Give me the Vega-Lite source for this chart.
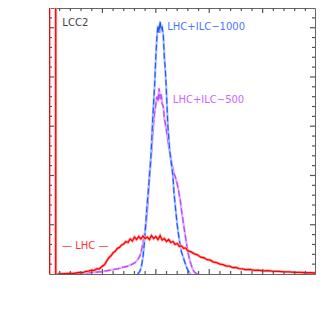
{
  "$schema": "https://vega.github.io/schema/vega-lite/v6.json",
  "width": 266,
  "height": 266,
  "autosize": "none",
  "padding": {"left": 49, "top": 8, "right": 12, "bottom": 42},
  "background": "white",
  "config": {
    "view": {"stroke": "#666", "strokeWidth": 1},
    "axis": {
      "labelFont": "DejaVu Sans", "labelFontSize": 10, "labelColor": "#555",
      "titleFont": "DejaVu Sans", "titleFontWeight": "normal", "titleColor": "#555",
      "domain": false, "grid": false
    }
  },
  "datasets": {
    "d": [
      {"s": "spike", "x": 0.0004, "y": 0}, {"s": "spike", "x": 0.0004, "y": 80}, {"s": "spike", "x": 0.0063, "y": 80}, {"s": "spike", "x": 0.0063, "y": 0},
      {"s": "LHC", "x": 0.008, "y": 0.0}, {"s": "LHC", "x": 0.015, "y": 0.05}, {"s": "LHC", "x": 0.020, "y": 0.1}, {"s": "LHC", "x": 0.024, "y": 0.15},
      {"s": "LHC", "x": 0.028, "y": 0.3}, {"s": "LHC", "x": 0.031, "y": 0.25}, {"s": "LHC", "x": 0.034, "y": 0.5}, {"s": "LHC", "x": 0.037, "y": 0.6},
      {"s": "LHC", "x": 0.040, "y": 0.8}, {"s": "LHC", "x": 0.042, "y": 0.7}, {"s": "LHC", "x": 0.045, "y": 1.1}, {"s": "LHC", "x": 0.047, "y": 1.0},
      {"s": "LHC", "x": 0.050, "y": 1.6}, {"s": "LHC", "x": 0.052, "y": 1.9}, {"s": "LHC", "x": 0.054, "y": 2.6}, {"s": "LHC", "x": 0.056, "y": 3.3},
      {"s": "LHC", "x": 0.058, "y": 3.7}, {"s": "LHC", "x": 0.060, "y": 4.3}, {"s": "LHC", "x": 0.062, "y": 4.6}, {"s": "LHC", "x": 0.064, "y": 5.2},
      {"s": "LHC", "x": 0.066, "y": 5.4}, {"s": "LHC", "x": 0.068, "y": 5.9}, {"s": "LHC", "x": 0.070, "y": 6.1}, {"s": "LHC", "x": 0.072, "y": 6.6},
      {"s": "LHC", "x": 0.074, "y": 6.4}, {"s": "LHC", "x": 0.076, "y": 7.1}, {"s": "LHC", "x": 0.078, "y": 6.7}, {"s": "LHC", "x": 0.080, "y": 7.5},
      {"s": "LHC", "x": 0.082, "y": 7.0}, {"s": "LHC", "x": 0.084, "y": 7.6}, {"s": "LHC", "x": 0.086, "y": 7.1}, {"s": "LHC", "x": 0.088, "y": 7.7},
      {"s": "LHC", "x": 0.090, "y": 7.2}, {"s": "LHC", "x": 0.092, "y": 7.5}, {"s": "LHC", "x": 0.094, "y": 7.0}, {"s": "LHC", "x": 0.096, "y": 7.8},
      {"s": "LHC", "x": 0.098, "y": 7.2}, {"s": "LHC", "x": 0.100, "y": 7.6}, {"s": "LHC", "x": 0.102, "y": 7.0}, {"s": "LHC", "x": 0.104, "y": 7.8},
      {"s": "LHC", "x": 0.106, "y": 6.9}, {"s": "LHC", "x": 0.108, "y": 7.2}, {"s": "LHC", "x": 0.110, "y": 6.6}, {"s": "LHC", "x": 0.112, "y": 7.0},
      {"s": "LHC", "x": 0.114, "y": 6.4}, {"s": "LHC", "x": 0.116, "y": 6.6}, {"s": "LHC", "x": 0.118, "y": 6.0}, {"s": "LHC", "x": 0.120, "y": 6.2},
      {"s": "LHC", "x": 0.122, "y": 5.6}, {"s": "LHC", "x": 0.124, "y": 5.7}, {"s": "LHC", "x": 0.126, "y": 5.2}, {"s": "LHC", "x": 0.128, "y": 5.3},
      {"s": "LHC", "x": 0.130, "y": 4.7}, {"s": "LHC", "x": 0.133, "y": 4.5}, {"s": "LHC", "x": 0.136, "y": 4.1}, {"s": "LHC", "x": 0.139, "y": 3.9},
      {"s": "LHC", "x": 0.142, "y": 3.4}, {"s": "LHC", "x": 0.145, "y": 3.3}, {"s": "LHC", "x": 0.148, "y": 2.9}, {"s": "LHC", "x": 0.151, "y": 2.8},
      {"s": "LHC", "x": 0.154, "y": 2.4}, {"s": "LHC", "x": 0.157, "y": 2.3}, {"s": "LHC", "x": 0.160, "y": 2.0}, {"s": "LHC", "x": 0.163, "y": 1.9},
      {"s": "LHC", "x": 0.166, "y": 1.6}, {"s": "LHC", "x": 0.169, "y": 1.6}, {"s": "LHC", "x": 0.172, "y": 1.3}, {"s": "LHC", "x": 0.175, "y": 1.35},
      {"s": "LHC", "x": 0.178, "y": 1.1}, {"s": "LHC", "x": 0.181, "y": 1.05}, {"s": "LHC", "x": 0.184, "y": 0.9}, {"s": "LHC", "x": 0.188, "y": 0.95},
      {"s": "LHC", "x": 0.192, "y": 0.75}, {"s": "LHC", "x": 0.196, "y": 0.8}, {"s": "LHC", "x": 0.200, "y": 0.65}, {"s": "LHC", "x": 0.205, "y": 0.7},
      {"s": "LHC", "x": 0.210, "y": 0.55}, {"s": "LHC", "x": 0.215, "y": 0.55}, {"s": "LHC", "x": 0.220, "y": 0.45}, {"s": "LHC", "x": 0.225, "y": 0.45},
      {"s": "LHC", "x": 0.230, "y": 0.35}, {"s": "LHC", "x": 0.235, "y": 0.35}, {"s": "LHC", "x": 0.240, "y": 0.25}, {"s": "LHC", "x": 0.245, "y": 0.25},
      {"s": "LHC", "x": 0.249, "y": 0.2},
      {"s": "ILC500", "x": 0.010, "y": 0.0}, {"s": "ILC500", "x": 0.020, "y": 0.05}, {"s": "ILC500", "x": 0.028, "y": 0.1}, {"s": "ILC500", "x": 0.035, "y": 0.2},
      {"s": "ILC500", "x": 0.040, "y": 0.3}, {"s": "ILC500", "x": 0.045, "y": 0.4}, {"s": "ILC500", "x": 0.050, "y": 0.5}, {"s": "ILC500", "x": 0.055, "y": 0.7},
      {"s": "ILC500", "x": 0.060, "y": 0.9}, {"s": "ILC500", "x": 0.065, "y": 1.1}, {"s": "ILC500", "x": 0.070, "y": 1.4}, {"s": "ILC500", "x": 0.074, "y": 1.6},
      {"s": "ILC500", "x": 0.078, "y": 2.0}, {"s": "ILC500", "x": 0.081, "y": 2.4}, {"s": "ILC500", "x": 0.083, "y": 2.9}, {"s": "ILC500", "x": 0.085, "y": 3.6},
      {"s": "ILC500", "x": 0.0864, "y": 4.6}, {"s": "ILC500", "x": 0.088, "y": 6.3}, {"s": "ILC500", "x": 0.0895, "y": 8.2}, {"s": "ILC500", "x": 0.091, "y": 10.5},
      {"s": "ILC500", "x": 0.092, "y": 13}, {"s": "ILC500", "x": 0.093, "y": 16}, {"s": "ILC500", "x": 0.094, "y": 19.5}, {"s": "ILC500", "x": 0.095, "y": 22.5},
      {"s": "ILC500", "x": 0.096, "y": 25}, {"s": "ILC500", "x": 0.097, "y": 28}, {"s": "ILC500", "x": 0.098, "y": 31}, {"s": "ILC500", "x": 0.099, "y": 33},
      {"s": "ILC500", "x": 0.100, "y": 34.5}, {"s": "ILC500", "x": 0.101, "y": 36}, {"s": "ILC500", "x": 0.102, "y": 35}, {"s": "ILC500", "x": 0.103, "y": 37.7},
      {"s": "ILC500", "x": 0.104, "y": 35.5}, {"s": "ILC500", "x": 0.105, "y": 36.5}, {"s": "ILC500", "x": 0.106, "y": 34.5}, {"s": "ILC500", "x": 0.107, "y": 34},
      {"s": "ILC500", "x": 0.108, "y": 31.5}, {"s": "ILC500", "x": 0.109, "y": 30.5}, {"s": "ILC500", "x": 0.110, "y": 29}, {"s": "ILC500", "x": 0.111, "y": 27.8},
      {"s": "ILC500", "x": 0.112, "y": 26}, {"s": "ILC500", "x": 0.113, "y": 25}, {"s": "ILC500", "x": 0.114, "y": 23.5}, {"s": "ILC500", "x": 0.115, "y": 22.5},
      {"s": "ILC500", "x": 0.116, "y": 21.3}, {"s": "ILC500", "x": 0.117, "y": 20.4}, {"s": "ILC500", "x": 0.118, "y": 19.8}, {"s": "ILC500", "x": 0.119, "y": 19.2},
      {"s": "ILC500", "x": 0.120, "y": 18.3}, {"s": "ILC500", "x": 0.121, "y": 17.3}, {"s": "ILC500", "x": 0.122, "y": 16}, {"s": "ILC500", "x": 0.123, "y": 14.8},
      {"s": "ILC500", "x": 0.124, "y": 13}, {"s": "ILC500", "x": 0.125, "y": 11.6}, {"s": "ILC500", "x": 0.126, "y": 10}, {"s": "ILC500", "x": 0.127, "y": 8.6},
      {"s": "ILC500", "x": 0.128, "y": 7.2}, {"s": "ILC500", "x": 0.129, "y": 5.8}, {"s": "ILC500", "x": 0.130, "y": 4.5}, {"s": "ILC500", "x": 0.131, "y": 3.5},
      {"s": "ILC500", "x": 0.132, "y": 2.6}, {"s": "ILC500", "x": 0.133, "y": 1.9}, {"s": "ILC500", "x": 0.134, "y": 1.3}, {"s": "ILC500", "x": 0.135, "y": 0.8},
      {"s": "ILC500", "x": 0.136, "y": 0.4}, {"s": "ILC500", "x": 0.138, "y": 0.1}, {"s": "ILC500", "x": 0.140, "y": 0.0},
      {"s": "ILC1000", "x": 0.083, "y": 0.0}, {"s": "ILC1000", "x": 0.085, "y": 0.5}, {"s": "ILC1000", "x": 0.0864, "y": 1.4}, {"s": "ILC1000", "x": 0.088, "y": 3.5},
      {"s": "ILC1000", "x": 0.0894, "y": 6.6}, {"s": "ILC1000", "x": 0.0905, "y": 10}, {"s": "ILC1000", "x": 0.0916, "y": 13.4}, {"s": "ILC1000", "x": 0.093, "y": 17},
      {"s": "ILC1000", "x": 0.0941, "y": 20.1}, {"s": "ILC1000", "x": 0.095, "y": 22.5}, {"s": "ILC1000", "x": 0.0957, "y": 25}, {"s": "ILC1000", "x": 0.097, "y": 31},
      {"s": "ILC1000", "x": 0.098, "y": 35}, {"s": "ILC1000", "x": 0.0988, "y": 38}, {"s": "ILC1000", "x": 0.100, "y": 44}, {"s": "ILC1000", "x": 0.101, "y": 48},
      {"s": "ILC1000", "x": 0.102, "y": 50.5}, {"s": "ILC1000", "x": 0.103, "y": 49}, {"s": "ILC1000", "x": 0.104, "y": 51.3}, {"s": "ILC1000", "x": 0.105, "y": 49.5},
      {"s": "ILC1000", "x": 0.106, "y": 50}, {"s": "ILC1000", "x": 0.107, "y": 48.5}, {"s": "ILC1000", "x": 0.108, "y": 44}, {"s": "ILC1000", "x": 0.109, "y": 41},
      {"s": "ILC1000", "x": 0.1097, "y": 38}, {"s": "ILC1000", "x": 0.1113, "y": 30}, {"s": "ILC1000", "x": 0.113, "y": 25}, {"s": "ILC1000", "x": 0.1159, "y": 20.1},
      {"s": "ILC1000", "x": 0.117, "y": 16.5}, {"s": "ILC1000", "x": 0.1184, "y": 13.4}, {"s": "ILC1000", "x": 0.120, "y": 10}, {"s": "ILC1000", "x": 0.1222, "y": 6.6},
      {"s": "ILC1000", "x": 0.124, "y": 4.5}, {"s": "ILC1000", "x": 0.1268, "y": 2.6}, {"s": "ILC1000", "x": 0.129, "y": 1.2}, {"s": "ILC1000", "x": 0.1315, "y": 0.2},
      {"s": "ILC1000", "x": 0.133, "y": 0.0}
    ],
    "t": [
      {"label": "LCC2", "x": 0.0125, "y": 51, "c": "#444444"},
      {"label": "LHC+ILC−1000", "x": 0.1107, "y": 50.1, "c": "#4f74ff"},
      {"label": "LHC+ILC−500", "x": 0.1159, "y": 35.3, "c": "#cc66ff"},
      {"label": "—  LHC  —", "x": 0.0122, "y": 5.7, "c": "#ff3333"}
    ],
    "xt": [
      {"v": 0.05, "k": "M"}, {"v": 0.1, "k": "M"}, {"v": 0.15, "k": "M"}, {"v": 0.2, "k": "M"},
      {"v": 0.01, "k": "m"}, {"v": 0.02, "k": "m"}, {"v": 0.03, "k": "m"}, {"v": 0.04, "k": "m"},
      {"v": 0.06, "k": "m"}, {"v": 0.07, "k": "m"}, {"v": 0.08, "k": "m"}, {"v": 0.09, "k": "m"},
      {"v": 0.11, "k": "m"}, {"v": 0.12, "k": "m"}, {"v": 0.13, "k": "m"}, {"v": 0.14, "k": "m"},
      {"v": 0.16, "k": "m"}, {"v": 0.17, "k": "m"}, {"v": 0.18, "k": "m"}, {"v": 0.19, "k": "m"},
      {"v": 0.21, "k": "m"}, {"v": 0.22, "k": "m"}, {"v": 0.23, "k": "m"}, {"v": 0.24, "k": "m"}
    ],
    "yt": [
      {"v": 10, "k": "M"}, {"v": 20, "k": "M"}, {"v": 30, "k": "M"}, {"v": 40, "k": "M"}, {"v": 50, "k": "M"},
      {"v": 2, "k": "m"}, {"v": 4, "k": "m"}, {"v": 6, "k": "m"}, {"v": 8, "k": "m"},
      {"v": 12, "k": "m"}, {"v": 14, "k": "m"}, {"v": 16, "k": "m"}, {"v": 18, "k": "m"},
      {"v": 22, "k": "m"}, {"v": 24, "k": "m"}, {"v": 26, "k": "m"}, {"v": 28, "k": "m"},
      {"v": 32, "k": "m"}, {"v": 34, "k": "m"}, {"v": 36, "k": "m"}, {"v": 38, "k": "m"},
      {"v": 42, "k": "m"}, {"v": 44, "k": "m"}, {"v": 46, "k": "m"}, {"v": 48, "k": "m"}, {"v": 52, "k": "m"}
    ]
  },
  "layer": [
    {
      "data": {"name": "d"},
      "mark": {"type": "point", "opacity": 0},
      "encoding": {
        "x": {"field": "x", "type": "quantitative", "scale": {"domain": [0, 0.249], "nice": false, "zero": false},
          "axis": {"orient": "bottom", "values": [0, 0.05, 0.1, 0.15, 0.2], "format": "~g", "ticks": false, "labelPadding": 6,
            "title": "Ωᵪh²", "titleFontSize": 11, "titleX": 128, "titlePadding": 8}},
        "y": {"field": "y", "type": "quantitative", "scale": {"domain": [0, 54], "nice": false, "zero": false},
          "axis": {"orient": "left", "values": [0, 10, 20, 30, 40, 50], "ticks": false, "labelPadding": 6,
            "title": "probability density dP/dx", "titleFontSize": 12, "titleY": 111, "titleX": -33}}
      }
    },
    {
      "data": {"name": "d"},
      "transform": [{"filter": "datum.s === 'ILC500'"}],
      "mark": {"type": "line", "clip": true, "color": "#e0aaff", "strokeWidth": 2.2},
      "encoding": {
        "x": {"field": "x", "type": "quantitative", "axis": null},
        "y": {"field": "y", "type": "quantitative", "axis": null}
      }
    },
    {
      "data": {"name": "d"},
      "transform": [{"filter": "datum.s === 'ILC500'"}],
      "mark": {"type": "line", "clip": true, "color": "#bb44ff", "strokeWidth": 1.2, "strokeDash": [6, 3]},
      "encoding": {
        "x": {"field": "x", "type": "quantitative", "axis": null},
        "y": {"field": "y", "type": "quantitative", "axis": null}
      }
    },
    {
      "data": {"name": "d"},
      "transform": [{"filter": "datum.s === 'ILC1000'"}],
      "mark": {"type": "line", "clip": true, "color": "#a8c0ff", "strokeWidth": 2.2},
      "encoding": {
        "x": {"field": "x", "type": "quantitative", "axis": null},
        "y": {"field": "y", "type": "quantitative", "axis": null}
      }
    },
    {
      "data": {"name": "d"},
      "transform": [{"filter": "datum.s === 'ILC1000'"}],
      "mark": {"type": "line", "clip": true, "color": "#2255ff", "strokeWidth": 1.2, "strokeDash": [6, 3]},
      "encoding": {
        "x": {"field": "x", "type": "quantitative", "axis": null},
        "y": {"field": "y", "type": "quantitative", "axis": null}
      }
    },
    {
      "data": {"name": "d"},
      "transform": [{"filter": "datum.s === 'LHC' || datum.s === 'spike'"}],
      "mark": {"type": "line", "clip": true, "color": "#ffaaaa", "strokeWidth": 2.8},
      "encoding": {
        "x": {"field": "x", "type": "quantitative", "axis": null},
        "y": {"field": "y", "type": "quantitative", "axis": null},
        "detail": {"field": "s"}
      }
    },
    {
      "data": {"name": "d"},
      "transform": [{"filter": "datum.s === 'LHC' || datum.s === 'spike'"}],
      "mark": {"type": "line", "clip": true, "color": "#ff0000", "strokeWidth": 1.3},
      "encoding": {
        "x": {"field": "x", "type": "quantitative", "axis": null},
        "y": {"field": "y", "type": "quantitative", "axis": null},
        "detail": {"field": "s"}
      }
    },
    {
      "data": {"name": "t"},
      "mark": {"type": "text", "align": "left", "baseline": "middle", "font": "DejaVu Sans", "fontSize": 10},
      "encoding": {
        "x": {"field": "x", "type": "quantitative", "axis": null},
        "y": {"field": "y", "type": "quantitative", "axis": null},
        "text": {"field": "label"},
        "color": {"field": "c", "type": "nominal", "scale": null}
      }
    },
    {
      "data": {"name": "xt"},
      "mark": {"type": "tick", "orient": "vertical", "clip": true, "color": "#555", "thickness": 1.2, "opacity": 1},
      "encoding": {
        "x": {"field": "v", "type": "quantitative", "axis": null},
        "y": {"datum": 0, "type": "quantitative", "axis": null},
        "size": {"condition": {"test": "datum.k === 'M'", "value": 10}, "value": 6}
      }
    },
    {
      "data": {"name": "xt"},
      "mark": {"type": "tick", "orient": "vertical", "clip": true, "color": "#555", "thickness": 1.2, "opacity": 1},
      "encoding": {
        "x": {"field": "v", "type": "quantitative", "axis": null},
        "y": {"datum": 54, "type": "quantitative", "axis": null},
        "size": {"condition": {"test": "datum.k === 'M'", "value": 10}, "value": 6}
      }
    },
    {
      "data": {"name": "yt"},
      "mark": {"type": "tick", "orient": "horizontal", "clip": true, "color": "#555", "thickness": 1.2, "opacity": 1},
      "encoding": {
        "y": {"field": "v", "type": "quantitative", "axis": null},
        "x": {"datum": 0, "type": "quantitative", "axis": null},
        "size": {"condition": {"test": "datum.k === 'M'", "value": 10}, "value": 6}
      }
    },
    {
      "data": {"name": "yt"},
      "mark": {"type": "tick", "orient": "horizontal", "clip": true, "color": "#555", "thickness": 1.2, "opacity": 1},
      "encoding": {
        "y": {"field": "v", "type": "quantitative", "axis": null},
        "x": {"datum": 0.249, "type": "quantitative", "axis": null},
        "size": {"condition": {"test": "datum.k === 'M'", "value": 10}, "value": 6}
      }
    }
  ]
}
